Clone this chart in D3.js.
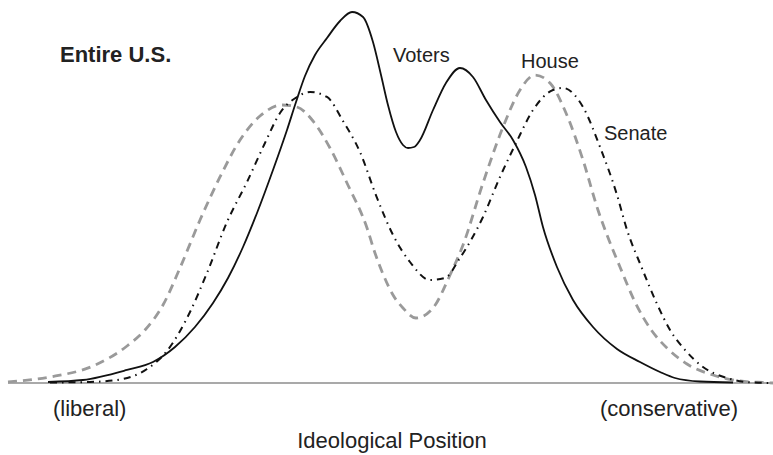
<!DOCTYPE html>
<html>
<head>
<meta charset="utf-8">
<script src="https://cdn.jsdelivr.net/npm/d3@7/dist/d3.min.js"></script>
<style>
  body { margin: 0; background: #fff; }
  svg { display: block; font-family: "Liberation Sans", Arial, sans-serif; }
</style>
</head>
<body>
<svg width="773" height="455"></svg>
<script>
// ideological position (0 = liberal end, 100 = conservative end) and density (peak ~100)
var votersX = [5.23, 9.80, 15.56, 18.95, 21.83, 24.44, 26.80, 28.76, 30.72, 32.55, 34.64, 36.47, 37.65, 38.82, 40.13, 41.70, 43.40, 44.97, 46.41, 47.71, 48.76, 49.67, 50.72, 51.63, 52.29, 53.07, 53.86, 55.56, 57.25, 59.08, 60.78, 62.48, 64.31, 66.01, 67.71, 68.89, 69.93, 71.76, 73.86, 76.47, 79.61, 82.61, 85.23, 87.19, 90.46, 94.77];
var votersY = [0.27, 0.80, 3.49, 5.63, 9.65, 15.01, 21.45, 28.15, 36.46, 45.58, 57.10, 67.83, 75.34, 82.31, 87.94, 92.49, 97.05, 99.46, 98.12, 91.42, 82.57, 74.53, 67.29, 63.81, 63.00, 63.27, 65.15, 73.19, 80.43, 84.45, 82.04, 75.87, 69.97, 65.15, 57.91, 50.40, 41.82, 31.10, 22.25, 15.01, 9.12, 5.63, 2.95, 1.34, 0.40, 0.13];

var houseX = [0, 5.49, 11.11, 15.56, 17.91, 20.26, 22.48, 25.10, 27.71, 30.33, 32.94, 35.82, 37.78, 39.87, 42.09, 44.31, 46.93, 47.97, 49.02, 50.33, 51.63, 53.33, 55.56, 57.78, 59.48, 62.09, 64.71, 66.93, 68.89, 70.85, 72.94, 75.16, 77.12, 78.30, 80.00, 81.96, 84.18, 86.14, 88.76, 92.16, 95.69, 98.69, 100];
var houseY = [0.27, 1.61, 4.56, 9.92, 14.21, 20.91, 30.83, 43.70, 55.23, 65.15, 71.58, 74.53, 73.99, 70.24, 63.00, 53.62, 41.55, 34.85, 29.22, 23.59, 20.11, 17.43, 20.11, 28.95, 37.00, 53.62, 68.63, 78.55, 82.57, 80.43, 72.39, 59.79, 46.38, 39.68, 31.10, 21.72, 13.94, 9.38, 5.09, 2.14, 0.54, 0.13, 0];

var senateX = [5.49, 10.72, 14.25, 18.17, 20.78, 23.79, 26.01, 28.63, 31.24, 33.59, 35.56, 37.78, 39.48, 41.70, 43.79, 46.01, 48.24, 50.33, 52.55, 55.16, 57.12, 59.08, 62.09, 64.31, 66.41, 68.63, 71.24, 72.55, 75.16, 77.39, 79.61, 80.92, 82.75, 84.84, 86.54, 88.50, 90.85, 93.99, 97.39, 100];
var senateY = [0.13, 0.27, 0.80, 3.75, 8.58, 19.03, 29.49, 43.16, 53.89, 64.34, 72.39, 76.68, 78.02, 76.68, 70.24, 61.93, 49.60, 39.68, 32.44, 27.61, 28.15, 33.51, 44.50, 55.23, 64.34, 73.19, 78.55, 79.09, 73.99, 63.27, 50.40, 41.02, 31.37, 21.18, 14.21, 8.85, 4.29, 1.34, 0.13, 0];

var seriesNames = ['Voters', 'House', 'Senate'];
var axisLabels = ['(liberal)', '(conservative)'];
var axisTitle = 'Ideological Position';
var panelTitle = 'Entire U.S.';

var svg = d3.select('svg');

var x = d3.scaleLinear().domain([0, 100]).range([8, 773]);
var y = d3.scaleLinear().domain([0, 100]).range([383, 10]);

function zip(xs, ys) {
    return xs.map(function(v, i) { return [v, ys[i]]; });
}

var line = d3.line()
    .x(function(d) { return x(d[0]); })
    .y(function(d) { return y(d[1]); })
    .curve(d3.curveMonotoneX);

// baseline
svg.append('line')
    .attr('x1', x(0)).attr('x2', x(100))
    .attr('y1', y(0)).attr('y2', y(0))
    .attr('stroke', '#555')
    .attr('stroke-width', 1.2);

// house - gray dashes
svg.append('path')
    .datum(zip(houseX, houseY))
    .attr('d', line)
    .attr('fill', 'none')
    .attr('stroke', '#9a9a9a')
    .attr('stroke-width', 2.8)
    .attr('stroke-dasharray', '9,6');

// senate - dash dot
svg.append('path')
    .datum(zip(senateX, senateY))
    .attr('d', line)
    .attr('fill', 'none')
    .attr('stroke', '#111')
    .attr('stroke-width', 2)
    .attr('stroke-dasharray', '7,5,1.5,5');

// voters - solid
svg.append('path')
    .datum(zip(votersX, votersY))
    .attr('d', line)
    .attr('fill', 'none')
    .attr('stroke', '#111')
    .attr('stroke-width', 1.8);

// labels
svg.append('text')
    .attr('x', 60).attr('y', 62)
    .attr('font-size', 22).attr('font-weight', 'bold')
    .attr('fill', '#222')
    .text(panelTitle);

var labelPos = [[393, 62], [521, 68], [604, 140]];
seriesNames.forEach(function(name, i) {
    svg.append('text')
        .attr('x', labelPos[i][0]).attr('y', labelPos[i][1])
        .attr('font-size', 20)
        .attr('fill', '#222')
        .text(name);
});

svg.append('text')
    .attr('x', 53).attr('y', 416)
    .attr('font-size', 22).attr('fill', '#222')
    .text(axisLabels[0]);

svg.append('text')
    .attr('x', 600).attr('y', 416)
    .attr('font-size', 22).attr('fill', '#222')
    .text(axisLabels[1]);

svg.append('text')
    .attr('x', 392).attr('y', 448)
    .attr('text-anchor', 'middle')
    .attr('font-size', 22).attr('fill', '#222')
    .text(axisTitle);
</script>
</body>
</html>
